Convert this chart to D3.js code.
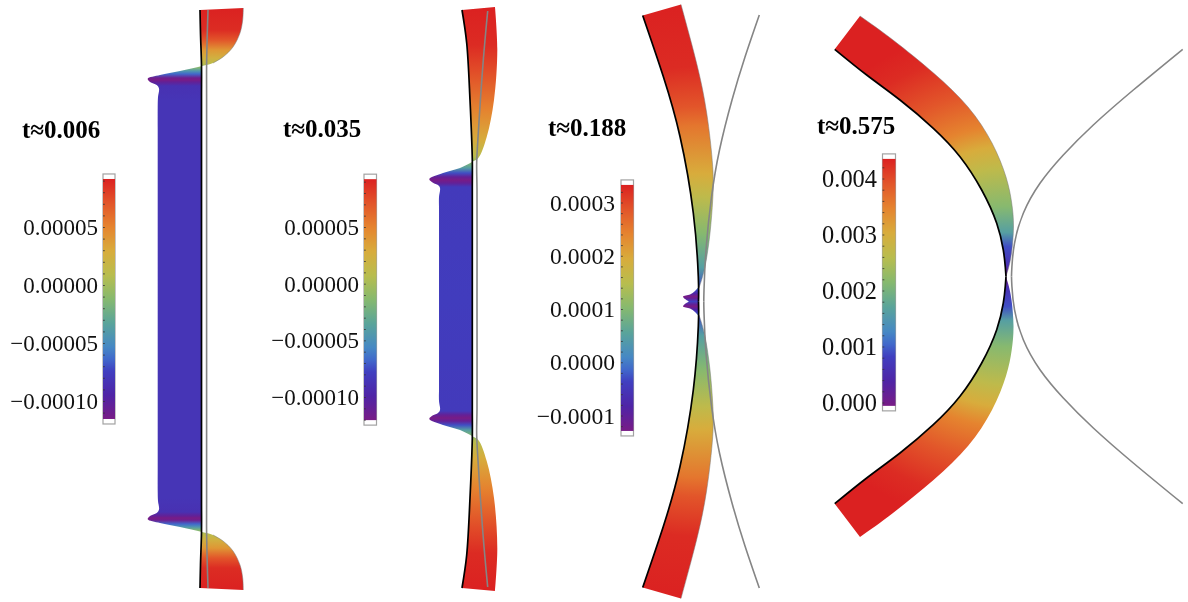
<!DOCTYPE html>
<html>
<head>
<meta charset="utf-8">
<script src="https://d3js.org/d3.v7.min.js"></script>
<style>
  html, body { margin: 0; background: #fff; }
  svg { display: block; filter: blur(0.5px); }
  text { font-family: "Liberation Serif", serif; fill: #111; }
  .title { font-weight: bold; font-size: 25px; fill: #000; }
</style>
</head>
<body>
<div id="chart"></div>
<script>
// rainbow colour function, position 0..1
var rainbowPos = [0, 0.1, 0.2, 0.25, 0.3, 0.4, 0.5, 0.6, 0.7, 0.8, 0.9, 1];
var rainbowCol = ['#781c86', '#4f24a6', '#403fc0', '#4169cb', '#4688c4', '#5aa49a', '#86b96f', '#b8bd4e', '#d8ac3c', '#e5842f', '#e2552a', '#db2121'];

var titles = ['t\u22480.006', 't\u22480.035', 't\u22480.188', 't\u22480.575'];

// colour bars: ticks, minor step, value range
var bar1Ticks = [0.00005, 0, -0.00005, -0.0001];
var bar2Ticks = [0.00005, 0, -0.00005, -0.0001];
var bar3Ticks = [0.0003, 0.0002, 0.0001, 0, -0.0001];
var bar4Ticks = [0.004, 0.003, 0.002, 0.001, 0];
var bar1Range = [-0.0001155, 0.0000914];
var bar2Range = [-0.0001204, 0.0000922];
var bar3Range = [-0.000129, 0.000333];
var bar4Range = [-0.00006, 0.00435];

// shapes: upper half only (h = height above the mid line), lower half is the mirror
var p1OuterX = [200, 243.3, 242.7, 240, 233, 223, 213, 202, 180, 160, 147.7, 150, 156.7, 159, 158, 157.7, 157.7, 157.7, 157.7];
var p1OuterH = [289, 291, 279, 266, 252, 242, 236, 233, 228, 224, 220.3, 217, 214, 210.5, 202, 192, 170, 100, 0];
var p1WallX = [200, 200.5, 201.5, 201.5, 201.5];
var p1WallH = [289, 266, 233, 200, 0];
var p1GreyX = [208, 207.3, 206.6, 206.6, 206.6];
var p1GreyH = [289, 266, 233, 200, 0];
var p1ValH = [291, 269, 259, 249, 241, 235, 231, 228, 225, 221, 219, 217, 213, 199, 0];
var p1Val = [0.0000914, 0.000087, 0.0000708, 0.00004, 0.000025, 0.00001, -0.000016, -0.000043, -0.000064, -0.000111, -0.0001155, -0.000105, -0.000085, -0.000082, -0.000082];

var p2OuterX = [462, 495, 497.3, 494, 486.7, 478.3, 472, 460, 443, 429.3, 433, 438, 440, 439, 439, 439, 439];
var p2OuterH = [289, 292, 249, 199, 162, 141, 137, 131, 126, 120, 116.3, 114, 111, 102, 90, 50, 0];
var p2WallX = [462, 466.7, 470, 472.3, 472.3, 472.3];
var p2WallH = [289, 256, 199, 139, 110, 0];
var p2GreyX = [487.7, 483.3, 478.3, 476.7, 477, 477];
var p2GreyH = [288, 239, 166, 136, 110, 0];
var p2ValH = [292, 254, 229, 189, 159, 142, 136, 131, 126, 122, 119, 116, 112, 0];
var p2Val = [0.0000922, 0.000088, 0.000075, 0.00005, 0.000028, 0.000007, -0.000018, -0.000040, -0.000074, -0.000110, -0.0001204, -0.000110, -0.000082, -0.000080];

var p3OuterX = [642.7, 681, 696.7, 706.7, 712.7, 712.7, 710, 705, 699];
var p3OuterH = [286, 297, 238, 188.5, 135, 101.5, 68.5, 35, 13.5];
var p3WallX = [642.7, 663.3, 680, 693.3, 698.3, 698.5];
var p3WallH = [286, 225, 165, 88.5, 25, 0];
var p3GreyX = [759.3, 745, 732, 719.5, 711.5, 706, 704, 703.8];
var p3GreyH = [286.5, 244.5, 201.5, 151.5, 104.5, 51.5, 11.5, 0];
var p3ValDist = [0, 14, 34, 68, 105, 128, 176, 195, 235, 300];
var p3Val = [-0.000129, -0.000027, 0.000047, 0.000102, 0.000157, 0.000194, 0.000254, 0.000287, 0.000324, 0.000333];
// small double fin at the neck of panel 3
var p3FinX = [698.5, 695, 690, 683, 685, 689];
var p3FinH = [14.5, 10.5, 7, 5, 2.5, 0];
var p3FinValH = [14.5, 11, 8, 5, 3, 0];
var p3FinVal = [0.0000096, -0.000037, -0.000083, -0.000129, -0.000106, -0.000037];

var p4OuterX = [834.7, 860, 893, 933.5, 968, 992, 1006, 1011.7, 1013.5, 1011.5, 1008.5, 1006];
var p4OuterH = [227.2, 260.5, 236.5, 203.5, 169.5, 133.5, 99.5, 73.5, 49.5, 23.5, 8.5, 0];
var p4WallX = [834.7, 866.7, 900, 933.3, 960, 981.7, 996.7, 1003.3, 1005.3, 1006];
var p4WallH = [227.2, 201.5, 176.5, 148.2, 119.8, 86.5, 53.2, 26.5, 9.5, 0];
var p4GreyX = [1182.7, 1133.3, 1093.3, 1063.3, 1040, 1023.3, 1014.5, 1011.9, 1011.5];
var p4GreyH = [227.2, 186.5, 151.5, 121.5, 93.2, 63.2, 33.2, 9.8, 0];
var p4ValDist = [0, 12, 30, 44, 70, 108, 130, 150, 185, 225, 250, 320];
var p4Val = [-0.00006, 0.0006, 0.0009, 0.00162, 0.00215, 0.00267, 0.00303, 0.00347, 0.0039, 0.00426, 0.00435, 0.00435];

var width = 1188, height = 602;

var svg = d3.select('#chart').append('svg')
  .attr('width', width)
  .attr('height', height)
  .attr('viewBox', '0 0 ' + width + ' ' + height);
var defs = svg.append('defs');

var x = d3.scaleLinear().domain([0, width]).range([0, width]);

var rainbow = d3.scaleLinear().domain(rainbowPos).range(rainbowCol).clamp(true);

var finCurve = d3.curveCatmullRom.alpha(0.5);

// upper and lower half scales of one panel
function halves(mid) {
  return [
    d3.scaleLinear().domain([0, 300]).range([mid, mid - 300]),
    d3.scaleLinear().domain([0, 300]).range([mid, mid + 300])
  ];
}

function colorOf(range) {
  var norm = d3.scaleLinear().domain(range).range([0, 1]).clamp(true);
  return function(v) { return rainbow(norm(v)); };
}

function curveIn(y, curve) {
  return d3.line()
    .x(function(d) { return x(d[0]); })
    .y(function(d) { return y(d[1]); })
    .curve(curve);
}

// outer edge down through both halves, then the wall back up
function outline(outer, wall, ys, curve) {
  var up = curveIn(ys[0], curve), down = curveIn(ys[1], curve);
  var o = outer.slice(1);
  var w = wall.slice();
  return up(o) +
    down(o.slice().reverse()).replace('M', 'L') +
    'L' + x(outer[0][0]) + ',' + ys[1](outer[0][1]) +
    down(w).replace('M', 'L') +
    up(w.slice().reverse()).replace('M', 'L') + 'Z';
}

function linearFill(id, valH, vals, range, ys) {
  var color = colorOf(range);
  var top = ys[0](valH[0]), bottom = ys[1](valH[0]);
  var pos = d3.scaleLinear().domain([top, bottom]).range([0, 1]);
  var stops = valH.map(function(h, i) { return {y: ys[0](h), c: color(vals[i])}; })
    .concat(valH.slice().reverse().map(function(h, i) { return {y: ys[1](h), c: color(vals[vals.length - 1 - i])}; }));
  defs.append('linearGradient')
    .attr('id', id)
    .attr('gradientUnits', 'userSpaceOnUse')
    .attr('x1', 0).attr('x2', 0).attr('y1', top).attr('y2', bottom)
    .selectAll('stop').data(stops).enter().append('stop')
      .attr('offset', function(d) { return pos(d.y); })
      .attr('stop-color', function(d) { return d.c; });
  return 'url(#' + id + ')';
}

function radialFill(id, cx, cy, dist, vals, range) {
  var color = colorOf(range);
  var r = d3.max(dist);
  defs.append('radialGradient')
    .attr('id', id)
    .attr('gradientUnits', 'userSpaceOnUse')
    .attr('cx', cx).attr('cy', cy).attr('r', r)
    .selectAll('stop').data(dist).enter().append('stop')
      .attr('offset', function(d) { return d / r; })
      .attr('stop-color', function(d, i) { return color(vals[i]); });
  return 'url(#' + id + ')';
}

function drawPanel(p) {
  var g = svg.append('g');
  var outer = d3.zip(p.outerX, p.outerH), wall = d3.zip(p.wallX, p.wallH), grey = d3.zip(p.greyX, p.greyH);
  g.append('path').attr('d', outline(outer, wall, p.ys, p.curve)).attr('fill', p.fill);
  if (p.edgeTo) {
    g.selectAll('path.edge').data(p.edgeBoth ? p.ys : [p.ys[0]]).enter().append('path')
      .attr('class', 'edge')
      .attr('d', function(y) { return curveIn(y, p.curve)(outer.slice(1, p.edgeTo)); })
      .attr('fill', 'none').attr('stroke', '#777').attr('stroke-width', 0.5);
  }
  if (p.extra) p.extra(g);
  p.ys.forEach(function(y) {
    g.append('path').attr('d', curveIn(y, p.curve)(grey))
      .attr('fill', 'none').attr('stroke', '#858585').attr('stroke-width', 1.6);
  });
  p.ys.forEach(function(y) {
    g.append('path').attr('d', curveIn(y, p.curve)(wall))
      .attr('fill', 'none').attr('stroke', '#000').attr('stroke-width', 1.7);
  });
}

function drawBar(b) {
  var y = d3.scaleLinear().domain(b.tickAnchor).range(b.tickPx);
  var g = svg.append('g');
  var top = y(b.range[1]), bottom = y(b.range[0]);
  var id = 'bar' + b.id;
  defs.append('linearGradient').attr('id', id)
    .attr('x1', 0).attr('x2', 0).attr('y1', 1).attr('y2', 0)
    .selectAll('stop').data(rainbowPos).enter().append('stop')
      .attr('offset', function(d) { return d; })
      .attr('stop-color', function(d, i) { return rainbowCol[i]; });
  g.append('rect')
    .attr('x', b.x).attr('y', top - 5)
    .attr('width', b.w).attr('height', bottom - top + 10)
    .attr('fill', '#fff').attr('stroke', '#a2a2a2').attr('stroke-width', 1.2);
  g.append('rect')
    .attr('x', b.x).attr('y', top)
    .attr('width', b.w).attr('height', bottom - top)
    .attr('fill', 'url(#' + id + ')');
  // little ticks, inside the left side of the bar
  var minor = d3.range(Math.ceil(b.range[0] / b.step - 1e-9), Math.floor(b.range[1] / b.step + 1e-9) + 1)
    .map(function(k) { return k * b.step; });
  g.append('g')
    .attr('transform', 'translate(' + b.x + ',0)')
    .call(d3.axisRight(y).tickValues(minor).tickSize(1.8).tickFormat(''))
    .call(function(a) { a.select('.domain').remove(); })
    .selectAll('line').attr('stroke', '#333').attr('stroke-width', 0.8);
  var labels = g.append('g')
    .attr('transform', 'translate(' + b.x + ',0)')
    .call(d3.axisLeft(y).tickValues(b.ticks).tickSize(0).tickPadding(b.pad).tickFormat(d3.format(b.fmt)))
    .call(function(a) { a.select('.domain').remove(); });
  labels.attr('font-family', null).attr('font-size', null);
  labels.selectAll('text').attr('fill', null).style('font-size', b.size + 'px');
}

// panel 1
var ys1 = halves(299);
drawPanel({
  outerX: p1OuterX, outerH: p1OuterH, wallX: p1WallX, wallH: p1WallH, greyX: p1GreyX, greyH: p1GreyH,
  ys: ys1, edgeTo: 7, edgeBoth: true, curve: finCurve,
  fill: linearFill('fill1', p1ValH, p1Val, bar1Range, ys1)
});

// panel 2
var ys2 = halves(299);
drawPanel({
  outerX: p2OuterX, outerH: p2OuterH, wallX: p2WallX, wallH: p2WallH, greyX: p2GreyX, greyH: p2GreyH,
  ys: ys2, curve: finCurve,
  fill: linearFill('fill2', p2ValH, p2Val, bar2Range, ys2)
});

// panel 3
var ys3 = halves(301.5);
var finFill = linearFill('fill3fin', p3FinValH, p3FinVal, bar3Range, ys3);
drawPanel({
  outerX: p3OuterX, outerH: p3OuterH, wallX: p3WallX, wallH: p3WallH, greyX: p3GreyX, greyH: p3GreyH,
  ys: ys3, edgeTo: 9, edgeBoth: true, curve: d3.curveNatural,
  fill: radialFill('fill3', x(700), ys3[0](0), p3ValDist, p3Val, bar3Range),
  extra: function(g) {
    var fin = d3.zip(p3FinX, p3FinH);
    g.append('path')
      .attr('d', curveIn(ys3[0], finCurve)(fin) + curveIn(ys3[1], finCurve)(fin.slice().reverse()).replace('M', 'L') + 'Z')
      .attr('fill', finFill);
  }
});

// panel 4
var ys4 = halves(276.5);
drawPanel({
  outerX: p4OuterX, outerH: p4OuterH, wallX: p4WallX, wallH: p4WallH, greyX: p4GreyX, greyH: p4GreyH,
  ys: ys4, edgeTo: 12, curve: d3.curveNatural,
  fill: radialFill('fill4', x(1006), ys4[0](0), p4ValDist, p4Val, bar4Range)
});

drawBar({id: 1, x: 103, w: 12, ticks: bar1Ticks, range: bar1Range, step: 0.00001, fmt: '.5f', pad: 5, size: 23,
  tickAnchor: [0.00005, -0.0001], tickPx: [227, 401]});
drawBar({id: 2, x: 364, w: 12.5, ticks: bar2Ticks, range: bar2Range, step: 0.00001, fmt: '.5f', pad: 5, size: 23,
  tickAnchor: [0.00005, -0.0001], tickPx: [227, 397]});
drawBar({id: 3, x: 621, w: 12.5, ticks: bar3Ticks, range: bar3Range, step: 0.00002, fmt: '.4f', pad: 6, size: 23.6,
  tickAnchor: [0.0003, -0.0001], tickPx: [202.5, 415.5]});
drawBar({id: 4, x: 882.5, w: 13, ticks: bar4Ticks, range: bar4Range, step: 0.0002, fmt: '.3f', pad: 5.5, size: 24.4,
  tickAnchor: [0.004, 0], tickPx: [178.5, 402.5]});

var titleX = [22, 283, 548, 817];
var titleY = [138, 137, 136, 134];
svg.selectAll('text.title').data(titles).enter().append('text')
  .attr('class', 'title')
  .attr('x', function(d, i) { return titleX[i]; })
  .attr('y', function(d, i) { return titleY[i]; })
  .text(function(d) { return d; });
</script>
</body>
</html>
